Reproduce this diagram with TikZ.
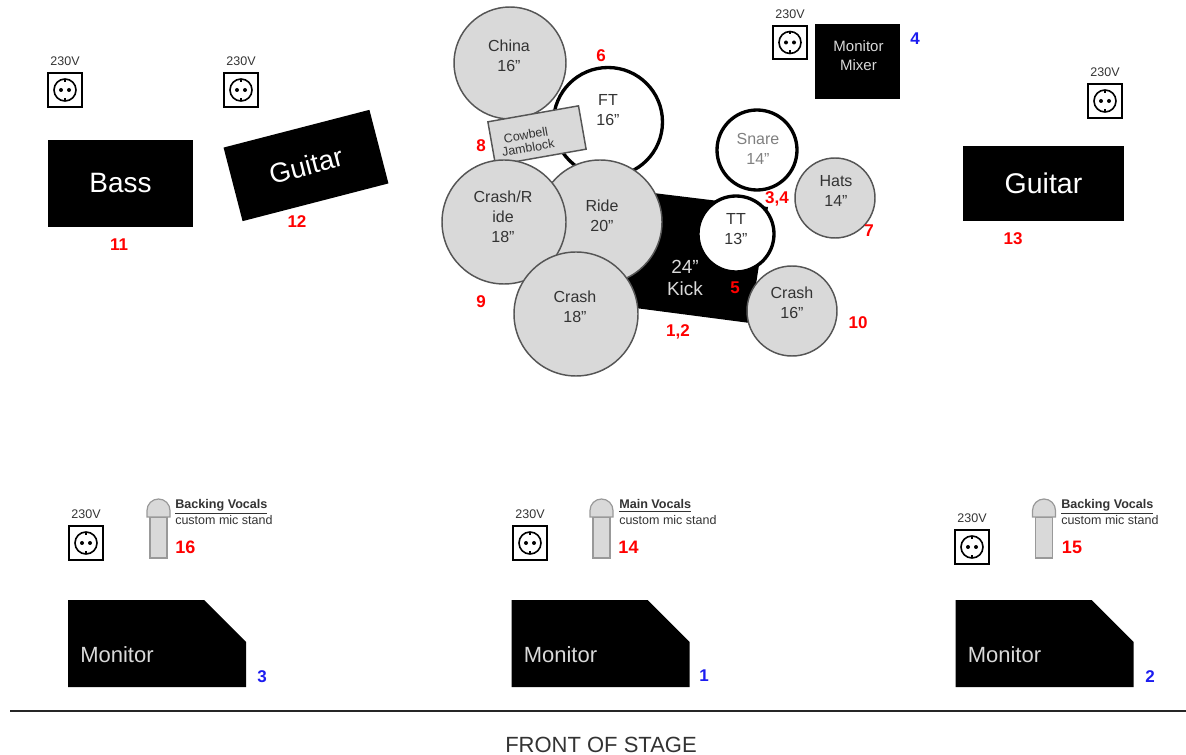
\documentclass[tikz,border=0pt]{standalone}
\usepackage{fontspec}
\setmainfont{Liberation Sans}
\newcommand{\fpx}[2][1.15]{\fontsize{\fpeval{#2*0.75}pt}{\fpeval{#2*0.75*#1}pt}\selectfont}
\tikzset{
  cym/.style={circle,draw=edgeg,fill=cymg,line width=1.1pt,inner sep=0pt,minimum size=#1*0.75pt},
  drum/.style={circle,draw=black,fill=white,line width=2.5pt,inner sep=0pt,minimum size=#1*0.75pt},
  blk/.style={fill=black},
  lab/.style={align=center,inner sep=0pt,text=txtg,font={\fpx[1.25]{16}}},
  big/.style={align=center,inner sep=0pt,text=white},
  red/.style={inner sep=0pt,text=numred,font=\bfseries\fpx{17}},
  blu/.style={inner sep=0pt,text=numblue,font=\bfseries\fpx{17}},
  volt/.style={inner sep=0pt,text=txtg,font=\fpx{12.5}},
  sock/.style={draw=black,fill=white,line width=1.3pt,minimum size=25pt,inner sep=0pt},
  sring/.style={draw=black,line width=1.2pt},
  mic/.style={draw=micedge,fill=cymg,line width=0.9pt},
  mict/.style={inner sep=0pt,anchor=base west,text=txtg,font=\fpx{12.5}},
  micb/.style={inner sep=0pt,anchor=base west,text=txtg,font=\bfseries\fpx{12.6}}
}
\definecolor{cymg}{HTML}{D9D9D9}
\definecolor{edgeg}{HTML}{555555}
\definecolor{txtg}{HTML}{333333}
\definecolor{micedge}{HTML}{999999}
\definecolor{numred}{HTML}{FF0000}
\definecolor{numblue}{HTML}{1C1CF0}
\newcommand{\socket}[3]{%
  \node[sock] (#1) at (#2,#3) {};
  \draw[sring] (#2,#3) circle (11);
  \fill (#2-4,#3) circle (2);
  \fill (#2+4,#3) circle (2);
  \draw[line width=.8pt] (#2,#3-11) -- (#2,#3-8) (#2,#3+11) -- (#2,#3+8);
  \node[volt] (#1v) at (#2,#3-28.5) {230V};
}
\newcommand{\micro}[2]{%
  \draw[mic] (#1-8.5,517) rectangle (#1+8.5,558);
  \draw[mic] (#1-11.5,517) -- (#1-11.5,510.5) arc[start angle=180,end angle=360,radius=11.5] -- (#1+11.5,517) -- cycle;
}
\newcommand{\monitor}[2]{%
  \fill[black] (#1,600) -- (#1+136,600) -- (#1+178,642) -- (#1+178,687) -- (#1,687) -- cycle;
  \node[inner sep=0pt,anchor=west,text=cymg,font=\fpx{22}] (#2) at (#1+12,655) {Monitor};
}
\begin{document}
\begin{tikzpicture}[x=0.75pt,y=-0.75pt]
\useasboundingbox (0,0) rectangle (1186,755);
% amps
\node[blk,minimum width=108.75pt,minimum height=65.25pt,inner sep=0pt,text=white,font=\fpx{28}] (bass) at (120.5,183.5) {Bass};
\node[blk,rotate=14.5,minimum width=113pt,minimum height=57pt,inner sep=0pt,text=white,font=\fpx{27.5}] (guitarl) at (306,165.5) {Guitar};
\node[blk,minimum width=120.75pt,minimum height=56.25pt,inner sep=0pt,text=white,font=\fpx{28.5}] (guitarr) at (1043.5,183.5) {Guitar};
\node[blk,minimum width=63.75pt,minimum height=56.25pt,inner sep=0pt] (mixer) at (857.5,61.5) {};
\node[inner sep=0pt,align=center,text=cymg,font={\fpx[1.27]{15}}] (tmixer) at (858.5,55.5) {Monitor\\Mixer};
% sockets
\socket{s1}{65}{90}
\socket{s2}{241}{90}
\socket{s3}{790}{42.5}
\socket{s4}{1105}{101}
\socket{s5}{86}{543}
\socket{s6}{530}{543}
\socket{s7}{972}{547}
% drums
\node[cym=112] (china) at (510,63) {};
\node[drum=109] (ft) at (608,122) {};
\fill[black] (640,191.4) -- (768,207) -- (750,323) -- (620,306) -- cycle;
\node[rotate=10,cym=1,rectangle,minimum width=69pt,minimum height=33pt] (cowbell) at (537,135.5) {};
\node[cym=124] (ride) at (600,222) {};
\node[cym=124] (crashride) at (504,222) {};
\node[cym=124] (crash18) at (576,314) {};
\node[drum=76] (tt) at (736,234) {};
\node[drum=80] (snare) at (757,150) {};
\node[cym=80] (hats) at (835,198) {};
\node[cym=90] (crash16) at (792,311) {};
% drum labels
\node[lab] (tchina) at (509,56) {China\\16"};
\node[lab] (tft) at (608,110) {FT\\16"};
\node[lab,font={\fpx[1.05]{12.5}},rotate=10] (tcow) at (527,141.5) {Cowbell\\Jamblock};
\node[lab,text=gray] (tsnare) at (758,148.5) {Snare\\14"};
\node[lab] (thats) at (836,191) {Hats\\14"};
\node[lab] (ttt) at (736,229) {TT\\13"};
\node[lab] (tride) at (602,216) {Ride\\20"};
\node[lab] (tcr) at (503,217) {Crash/R\\ide\\18"};
\node[lab] (tc18) at (575,307) {Crash\\18"};
\node[lab] (tc16) at (792,303) {Crash\\16"};
\node[big,font={\fpx[1.16]{19}},text=cymg] (tkick) at (685,278) {24"\\Kick};
% red numbers
\node[red] (n6) at (601,56) {6};
\node[red] (n8) at (481,146) {8};
\node[red] (n34) at (777,199) {3,4};
\node[red] (n7) at (869,231) {7};
\node[red] (n5) at (735,288) {5};
\node[red] (n12) at (678,332) {1,2};
\node[red] (n10) at (858,323) {10};
\node[red] (n9) at (481,302) {9};
\node[red] (n11) at (119,245) {11};
\node[red] (n12b) at (297,222) {12};
\node[red] (n13) at (1013,239) {13};
\node[blu] (n4) at (915,39) {4};
% mics
\micro{158.5}{16}
\micro{601.5}{14}
\micro{1044}{15}
\node[micb] (b1) at (175,509) {\underline{Backing Vocals}};
\node[mict] (c1) at (175,524.5) {custom mic stand};
\node[red,font=\bfseries\fpx{18}] (n16) at (185.5,547) {16};
\node[micb] (b2) at (619,509) {\underline{Main Vocals}};
\node[mict] (c2) at (619,524.5) {custom mic stand};
\node[red,font=\bfseries\fpx{18}] (n14) at (628.5,547) {14};
\node[micb] (b3) at (1061,509) {\underline{Backing Vocals}};
\node[mict] (c3) at (1061,524.5) {custom mic stand};
\node[red,font=\bfseries\fpx{18}] (n15) at (1072,547) {15};
% monitors
\monitor{68}{m3}
\monitor{511.5}{m1}
\monitor{955.5}{m2}
\node[blu] (n3) at (262,677) {3};
\node[blu] (n1) at (704,676) {1};
\node[blu] (n2) at (1150,677) {2};
% stage front
\coordinate (fl) at (10,711);
\coordinate (fr) at (1186,711);
\draw[line width=2pt,draw=black!85] (fl) -- (fr);
\node[inner sep=0pt,text=txtg,font=\fpx{22}] (front) at (601,745) {FRONT OF STAGE};
\end{tikzpicture}
\end{document}
